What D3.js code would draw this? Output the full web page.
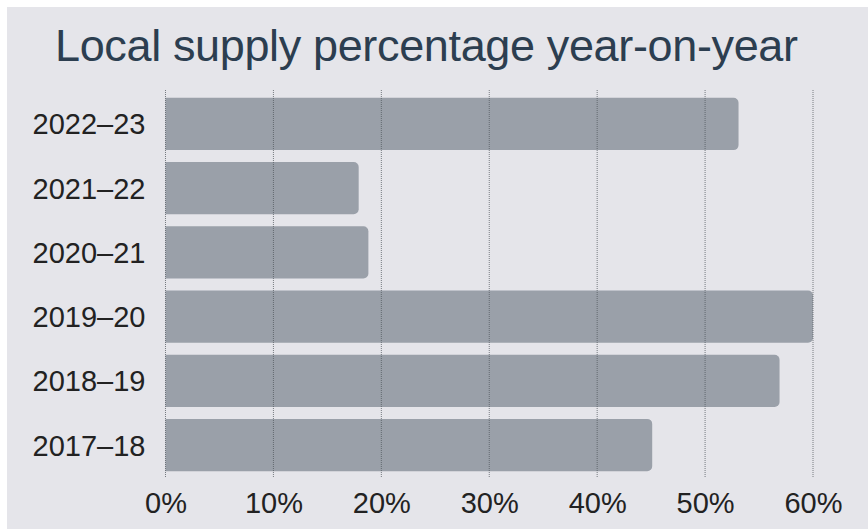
<!DOCTYPE html>
<html>
<head>
<meta charset="utf-8">
<script src="https://cdn.jsdelivr.net/npm/d3@7"></script>
<style>
  html, body { margin: 0; padding: 0; background: #ffffff; }
  svg { display: block; }
</style>
</head>
<body>
<svg id="chart" width="868" height="530"></svg>
<script>
// Financial years, listed top to bottom
const years = ["2022–23", "2021–22", "2020–21", "2019–20", "2018–19", "2017–18"];
// Share of supply sourced locally, in percent
const localShare = [53.1, 17.9, 18.8, 60.0, 56.9, 45.1];
const tickValues = [0, 10, 20, 30, 40, 50, 60];

const data = years.map((y, i) => ({ year: y, value: localShare[i] }));

const svg = d3.select("#chart");
const W = 868, H = 530;

// panel background
svg.append("rect")
  .attr("x", 7).attr("y", 7)
  .attr("width", W - 7).attr("height", H - 8)
  .attr("fill", "#e5e5ea");

const x = d3.scaleLinear().domain([0, 60]).range([165.5, 813]);
const y = d3.scaleBand().domain(years).range([92, 477]).paddingInner(0.185).paddingOuter(0.09);

svg.append("text")
  .attr("x", 55).attr("y", 61)
  .attr("font-family", "Liberation Sans, Arial, sans-serif")
  .attr("font-size", 45)
  .attr("fill", "#2c3e50")
  .attr("textLength", 743)
  .text("Local supply percentage year-on-year");

// bars: square on the left, rounded on the right
const r = 5;
svg.append("g").selectAll("path")
  .data(data)
  .join("path")
  .attr("fill", "#9aa0a9")
  .attr("d", d => {
    const x0 = x(0), x1 = x(d.value), y0 = y(d.year), h = y.bandwidth();
    const p = d3.path();
    p.moveTo(x0, y0);
    p.lineTo(x1 - r, y0);
    p.arcTo(x1, y0, x1, y0 + r, r);
    p.lineTo(x1, y0 + h - r);
    p.arcTo(x1, y0 + h, x1 - r, y0 + h, r);
    p.lineTo(x0, y0 + h);
    p.closePath();
    return p.toString();
  });

// dotted vertical grid drawn over the bars
const grid = svg.append("g");
grid.selectAll("line")
  .data(tickValues)
  .join("line")
  .attr("x1", d => x(d)).attr("x2", d => x(d))
  .attr("y1", 90).attr("y2", 478)
  .attr("stroke", "#50555c")
  .attr("stroke-opacity", 0.75)
  .attr("stroke-width", 1)
  .attr("stroke-dasharray", "1,1");

// x axis labels
const xAxis = d3.axisBottom(x).tickValues(tickValues).tickFormat(d => d + "%").tickSize(0).tickPadding(0);
const gx = svg.append("g").attr("transform", "translate(0,490)").call(xAxis);
gx.select(".domain").remove();
gx.selectAll("text")
  .attr("font-family", "Liberation Sans, Arial, sans-serif")
  .attr("font-size", 29)
  .attr("fill", "#222222")
  .attr("dy", "0.78em");

// y axis labels
const yAxis = d3.axisLeft(y).tickSize(0).tickPadding(20);
const gy = svg.append("g").attr("transform", "translate(165.5,0)").call(yAxis);
gy.select(".domain").remove();
gy.selectAll("text")
  .attr("font-family", "Liberation Sans, Arial, sans-serif")
  .attr("font-size", 29)
  .attr("fill", "#222222")
  .attr("dy", "0.36em");
</script>
</body>
</html>
